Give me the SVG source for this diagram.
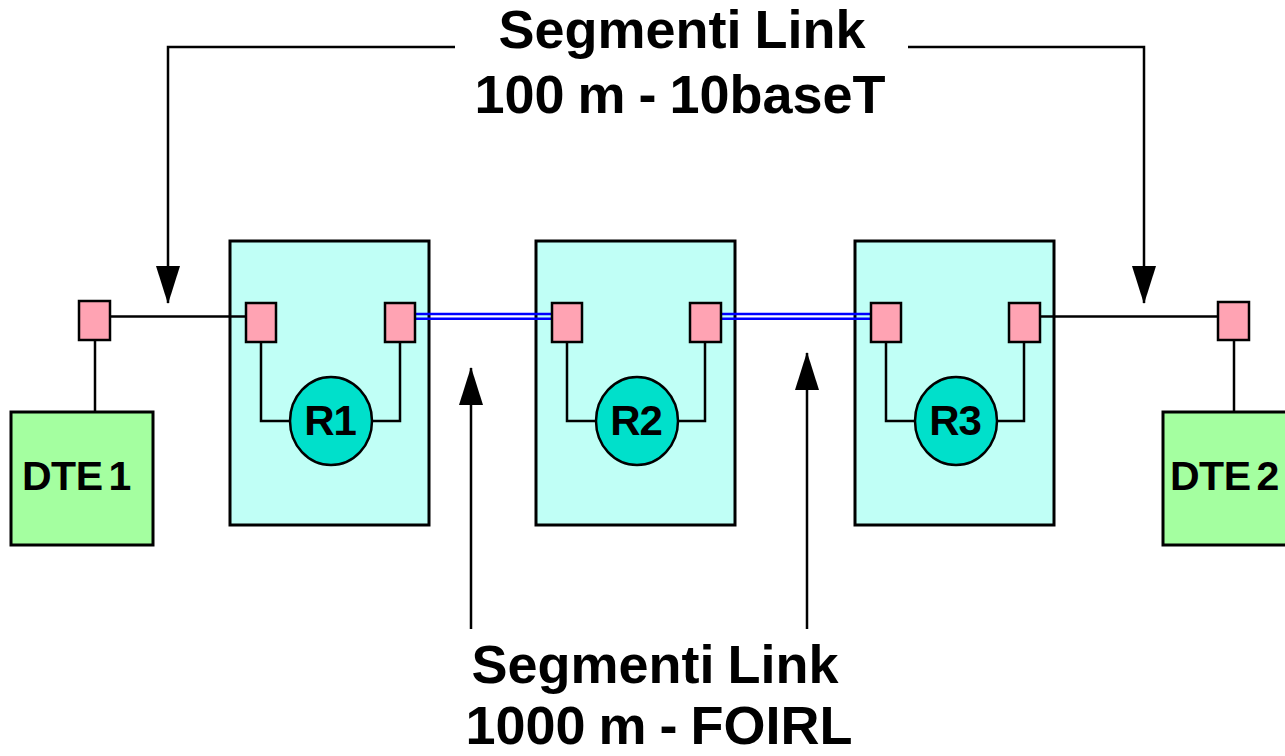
<svg xmlns="http://www.w3.org/2000/svg" width="1285" height="756" viewBox="0 0 1285 756">
<defs>
<style>
.box{fill:#c0fff6;stroke:#000;stroke-width:3}
.port{fill:#ffa3b3;stroke:#000;stroke-width:2.5}
.rep{fill:#00e0cb;stroke:#000;stroke-width:2.5}
.dte{fill:#a4ffa0;stroke:#000;stroke-width:3}
.ln{fill:none;stroke:#000;stroke-width:2.5}
.arrow{fill:none;stroke:#000;stroke-width:2.5;marker-end:url(#arr)}
.fib{fill:none;stroke:#0000ff;stroke-width:2.6}
.t{font-family:"Liberation Sans",Arial,sans-serif;font-weight:bold;fill:#000}
.big{font-size:54px;text-anchor:middle;word-spacing:-2px}
.lbl{font-size:42px;text-anchor:middle;letter-spacing:-1px}
.dt{font-size:41px;word-spacing:-5px;letter-spacing:-0.5px}
</style>
<marker id="arr" viewBox="0 0 38 24" refX="37" refY="12" markerWidth="38" markerHeight="24" markerUnits="userSpaceOnUse" orient="auto">
<path d="M0,0 L38,12 L0,24 Z" fill="#000"/>
</marker>
</defs>
<rect width="1285" height="756" fill="#fff"/>

<g id="R1box"><rect class="box" x="230" y="241" width="199" height="284"/></g>
<g id="R2box"><rect class="box" x="536" y="241" width="199" height="284"/></g>
<g id="R3box"><rect class="box" x="855" y="241" width="199" height="284"/></g>

<g id="connectors">
<path class="ln" d="M110,316.5 H246"/>
<path class="ln" d="M1040,316.5 H1218"/>
<path class="fib" d="M415,314 H552 M415,318.8 H552"/>
<path class="fib" d="M721,314 H871 M721,318.8 H871"/>
<path class="ln" d="M95,340 V412"/>
<path class="ln" d="M1234,340 V412"/>
<path class="ln" d="M261,342 V421 H290 M400,342 V421 H372"/>
<path class="ln" d="M567,342 V421 H596 M705,342 V421 H678"/>
<path class="ln" d="M886,342 V421 H915 M1024,342 V421 H997"/>
<path class="arrow" d="M455,47 H168 V303"/>
<path class="arrow" d="M908,47 H1144 V303"/>
<path class="arrow" d="M471,629 V368"/>
<path class="arrow" d="M807,629 V353"/>
</g>

<g id="DTE1">
<rect class="dte" x="11" y="412" width="142" height="133"/>
<text class="t dt" x="22" y="490">DTE 1</text>
</g>
<g id="DTE2">
<rect class="dte" x="1163" y="412" width="130" height="133"/>
<text class="t dt" x="1170" y="490">DTE 2</text>
</g>

<g id="port-dte1"><rect class="port" x="79" y="301" width="31" height="39"/></g>
<g id="port-r1a"><rect class="port" x="246" y="303" width="30" height="39"/></g>
<g id="port-r1b"><rect class="port" x="385" y="303" width="30" height="39"/></g>
<g id="port-r2a"><rect class="port" x="552" y="303" width="30" height="39"/></g>
<g id="port-r2b"><rect class="port" x="690" y="303" width="31" height="39"/></g>
<g id="port-r3a"><rect class="port" x="871" y="303" width="30" height="39"/></g>
<g id="port-r3b"><rect class="port" x="1009" y="303" width="31" height="39"/></g>
<g id="port-dte2"><rect class="port" x="1218" y="302" width="31" height="38"/></g>

<g id="R1"><ellipse class="rep" cx="331" cy="421" rx="41" ry="44"/><text class="t lbl" x="330" y="435">R1</text></g>
<g id="R2"><ellipse class="rep" cx="637" cy="421" rx="41" ry="44"/><text class="t lbl" x="636" y="435">R2</text></g>
<g id="R3"><ellipse class="rep" cx="956" cy="421" rx="41" ry="44"/><text class="t lbl" x="955" y="435">R3</text></g>

<g id="label-top">
<text class="t big" x="682" y="48">Segmenti Link</text>
<text class="t big" x="680" y="113">100 m - 10baseT</text>
</g>
<g id="label-bottom">
<text class="t big" x="655" y="683">Segmenti Link</text>
<text class="t big" x="659" y="744">1000 m - FOIRL</text>
</g>
</svg>
